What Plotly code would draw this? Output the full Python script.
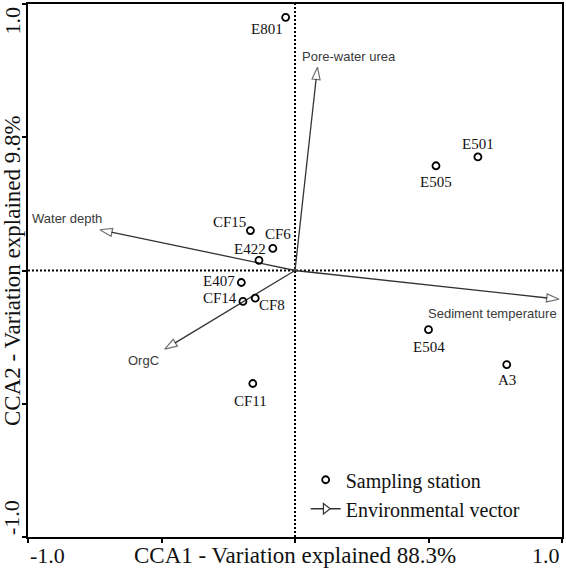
import plotly.graph_objects as go

# ---- data ----
stations = ["E801", "E501", "E505", "E504", "A3", "CF11", "CF15", "CF6", "E422", "E407", "CF14", "CF8"]
cca1 = [-0.035, 0.685, 0.528, 0.500, 0.793, -0.158, -0.167, -0.083, -0.135, -0.201, -0.195, -0.149]
cca2 = [0.950, 0.426, 0.393, -0.222, -0.353, -0.424, 0.150, 0.083, 0.038, -0.045, -0.116, -0.104]

variables = ["Water depth", "Pore-water urea", "Sediment temperature", "OrgC"]
vec_x = [-0.731, 0.084, 0.989, -0.488]
vec_y = [0.153, 0.763, -0.108, -0.295]

x_ticks = [-1.0, -0.5, 0.0, 0.5, 1.0]
y_ticks = [-1.0, -0.5, 0.0, 0.5, 1.0]
x_title = "CCA1 - Variation explained 88.3%"
y_title = "CCA2 - Variation explained 9.8%"

# ---- styles (pixel offsets of labels) ----
st_dx = [-19, 0, 0, 0, 0, -2, -21, 5, -9, -22, -23, 17]
st_dy = [12, -13, 16, 17, 15, 17, -9, -14, -11, -1, -3, 7]
vec_dx = [-33, 32, -67, -21]
vec_dy = [-11, -11, 14, 11]

SERIF = "Liberation Serif"
SANS = "Liberation Sans"
VEC_COL = "#333333"
TXT = "#111111"

fig = go.Figure()

# vectors
for i, name in enumerate(variables):
    fig.add_trace(go.Scatter(
        x=[0, vec_x[i]], y=[0, vec_y[i]],
        mode="lines+markers",
        line=dict(color=VEC_COL, width=1.3),
        marker=dict(symbol="arrow", size=[0, 13], angleref="previous",
                    color="white", line=dict(color=VEC_COL, width=1.2)),
        showlegend=False, hoverinfo="skip",
    ))

# stations
fig.add_trace(go.Scatter(
    x=cca1, y=cca2, mode="markers", name="Sampling station",
    marker=dict(symbol="circle-open", size=7, color="black", line=dict(width=1.8)),
))
# legend entry for vectors
fig.add_trace(go.Scatter(
    x=[None, None], y=[None, None], mode="lines+markers", name="Environmental vector",
    line=dict(color=VEC_COL, width=1.3),
    marker=dict(symbol="triangle-right", size=9, color="white", line=dict(color=VEC_COL, width=1.2)),
))

annotations = []
for i, s in enumerate(stations):
    annotations.append(dict(x=cca1[i], y=cca2[i], text=s, showarrow=False,
                            xshift=st_dx[i], yshift=-st_dy[i],
                            font=dict(family=SERIF, size=15, color=TXT)))
for i, v in enumerate(variables):
    annotations.append(dict(x=vec_x[i], y=vec_y[i], text=v, showarrow=False,
                            xshift=vec_dx[i], yshift=-vec_dy[i],
                            font=dict(family=SANS, size=13, color="#3a3a3a")))

# axis titles and end tick labels
annotations += [
    dict(x=0.5, y=0, xref="paper", yref="paper", text=x_title, showarrow=False,
         yanchor="top", yshift=-4, font=dict(family=SERIF, size=23, color=TXT)),
    dict(x=0, y=0.5, xref="paper", yref="paper", text=y_title, showarrow=False, textangle=-90,
         xanchor="right", xshift=-1, font=dict(family=SERIF, size=23, color=TXT)),
    dict(x=0, y=0, xref="paper", yref="paper", text=f"{x_ticks[0]:.1f}", showarrow=False,
         xanchor="left", yanchor="top", yshift=-4, font=dict(family=SERIF, size=22, color=TXT)),
    dict(x=1, y=0, xref="paper", yref="paper", text=f"{x_ticks[-1]:.1f}", showarrow=False,
         xanchor="right", yanchor="top", yshift=-4, font=dict(family=SERIF, size=22, color=TXT)),
    dict(x=0, y=0, xref="paper", yref="paper", text=f"{y_ticks[0]:.1f}", showarrow=False, textangle=-90,
         xanchor="right", yanchor="bottom", xshift=-2, font=dict(family=SERIF, size=22, color=TXT)),
    dict(x=0, y=1, xref="paper", yref="paper", text=f"{y_ticks[-1]:.1f}", showarrow=False, textangle=-90,
         xanchor="right", yanchor="top", xshift=-2, font=dict(family=SERIF, size=22, color=TXT)),
]

shapes = [
    dict(type="line", xref="x", yref="paper", x0=0, x1=0, y0=0, y1=1,
         line=dict(color="black", width=2, dash="2px,2px"), layer="below"),
    dict(type="line", xref="paper", yref="y", x0=0, x1=1, y0=0, y1=0,
         line=dict(color="black", width=2, dash="2px,2px"), layer="below"),
]

axis_common = dict(showgrid=False, zeroline=False, showline=True, linecolor="black", linewidth=2,
                   mirror=True, ticks="outside", ticklen=4, tickcolor="black", tickwidth=1.5,
                   showticklabels=False)
fig.update_layout(
    width=566, height=568,
    margin=dict(l=28, r=3, t=2, b=31),
    plot_bgcolor="white", paper_bgcolor="white",
    xaxis=dict(range=[-1, 1], tickvals=x_ticks, **axis_common),
    yaxis=dict(range=[-1, 1], tickvals=y_ticks, **axis_common),
    annotations=annotations, shapes=shapes,
    legend=dict(x=0.52, y=0.144, xanchor="left", yanchor="top", bgcolor="rgba(0,0,0,0)",
                font=dict(family=SERIF, size=20, color=TXT), tracegroupgap=0),
    showlegend=True,
)

fig.write_html("out.html", config={"displayModeBar": False},
               post_script="document.body.style.margin='0';document.body.style.overflow='hidden';")
